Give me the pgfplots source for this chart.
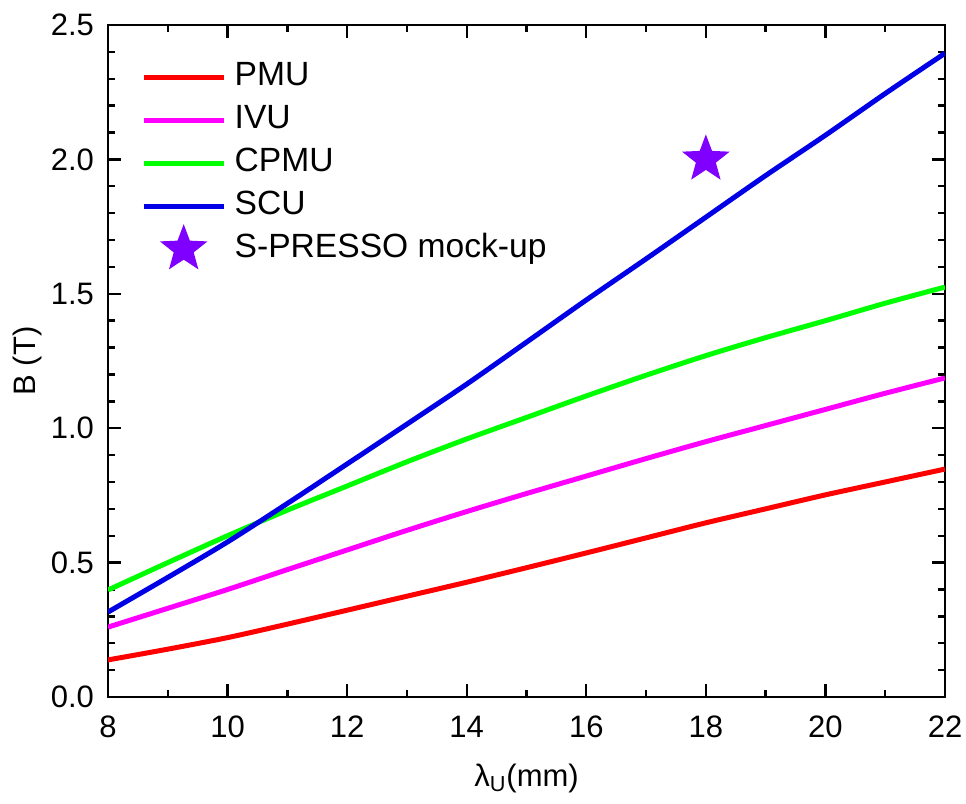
\documentclass[border=0pt]{standalone}
\usepackage{pgfplots}
\pgfplotsset{compat=1.18}
\usepackage{fontspec}
\setmainfont{Liberation Sans}

\definecolor{cpmu}{RGB}{0,255,0}
\definecolor{pmu}{RGB}{255,0,0}
\definecolor{ivu}{RGB}{255,0,255}
\definecolor{scu}{RGB}{0,0,230}
\definecolor{mock}{RGB}{127,0,255}

% filled five-pointed star
\pgfdeclareplotmark{fstar}{%
  \pgfpathmoveto{\pgfqpointpolar{90}{\pgfplotmarksize}}%
  \pgfpathlineto{\pgfqpointpolar{126}{0.42\pgfplotmarksize}}%
  \pgfpathlineto{\pgfqpointpolar{162}{\pgfplotmarksize}}%
  \pgfpathlineto{\pgfqpointpolar{198}{0.42\pgfplotmarksize}}%
  \pgfpathlineto{\pgfqpointpolar{234}{\pgfplotmarksize}}%
  \pgfpathlineto{\pgfqpointpolar{270}{0.42\pgfplotmarksize}}%
  \pgfpathlineto{\pgfqpointpolar{306}{\pgfplotmarksize}}%
  \pgfpathlineto{\pgfqpointpolar{342}{0.42\pgfplotmarksize}}%
  \pgfpathlineto{\pgfqpointpolar{18}{\pgfplotmarksize}}%
  \pgfpathlineto{\pgfqpointpolar{54}{0.42\pgfplotmarksize}}%
  \pgfpathclose
  \pgfusepathqfill}

\begin{document}
\begin{tikzpicture}
\begin{axis}[
    scale only axis,
    width=418.5pt, height=336pt,
    xmin=8, xmax=22,
    ymin=0, ymax=2.5,
    xtick={8,10,...,22},
    ytick={0,0.5,...,2.5},
    minor x tick num=1,
    minor y tick num=4,
    major tick length=6.5pt,
    minor tick length=3.5pt,
    tick style={black, line width=1.2pt},
    axis line style={line width=1.3pt},
    /pgf/number format/assume math mode=true,
    ticklabel style={font=\fontsize{15.5}{18}\selectfont},
    xticklabel style={yshift=-6pt},
    yticklabel style={xshift=-3.5pt, /pgf/number format/.cd, fixed, fixed zerofill, precision=1},
    label style={font=\fontsize{15.5}{18}\selectfont},
    xlabel={λ\textsubscript{U}(mm)},
    ylabel={B (T)},
    xlabel style={at={(axis description cs:0.5,-0.1205)}, anchor=center},
    ylabel style={at={(axis description cs:-0.096,0.5)}, anchor=center},
    legend style={draw=none, fill=none, font=\fontsize{16.8}{20}\selectfont,
        at={(axis description cs:0.035,0.955)}, anchor=north west,
        nodes={text height=12pt, text depth=3.5pt, inner sep=1pt},
        /tikz/every odd column/.append style={column sep=4.5pt},
        row sep=4pt},
    legend cell align=left,
    legend image code/.code={%
        \pgfpathrectangle{\pgfpoint{0pt}{-3pt}}{\pgfpoint{40pt}{6pt}}%
        \pgfusepath{discard}%
        \draw[overlay, mark repeat=2, mark phase=2, #1]
        plot coordinates {(0pt,0pt) (20pt,0pt) (40pt,0pt)};},
]

\addplot[pmu, line width=2.5pt, smooth] coordinates {
    (8,0.138)(9,0.178)(10,0.221)(11,0.271)(12,0.323)(13,0.375)(14,0.427)
    (15,0.481)(16,0.536)(17,0.592)(18,0.648)(19,0.700)(20,0.752)(21,0.800)(22,0.848)
};
\addlegendentry{PMU}

\addplot[ivu, line width=2.5pt, smooth] coordinates {
    (8,0.260)(9,0.330)(10,0.400)(11,0.474)(12,0.547)(13,0.620)(14,0.690)
    (15,0.757)(16,0.822)(17,0.887)(18,0.950)(19,1.010)(20,1.070)(21,1.130)(22,1.187)
};
\addlegendentry{IVU}

\addplot[cpmu, line width=2.5pt, smooth] coordinates {
    (8,0.398)(9,0.500)(10,0.600)(11,0.695)(12,0.785)(13,0.875)(14,0.960)
    (15,1.040)(16,1.120)(17,1.197)(18,1.270)(19,1.337)(20,1.400)(21,1.465)(22,1.525)
};
\addlegendentry{CPMU}

\addplot[scu, line width=2.5pt, smooth] coordinates {
    (8,0.316)(9,0.445)(10,0.577)(11,0.720)(12,0.867)(13,1.015)(14,1.164)
    (15,1.320)(16,1.477)(17,1.630)(18,1.785)(19,1.940)(20,2.090)(21,2.245)(22,2.395)
};
\addlegendentry{SCU}

\addplot[only marks, mark=fstar, mark size=12.5pt, mock, mark options={fill=mock}] coordinates {
    (18,2.0)
};
\addlegendentry{S-PRESSO mock-up}

\end{axis}
\pgfresetboundingbox
\path ([shift={(-54pt,-53pt)}]current axis.south west)
    rectangle ([shift={(10.5pt,12.5pt)}]current axis.north east);
\end{tikzpicture}
\end{document}
